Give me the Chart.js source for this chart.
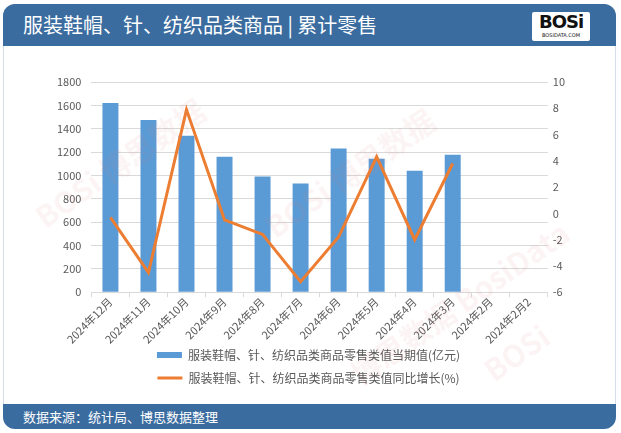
<!DOCTYPE html>
<html>
<head>
<meta charset="utf-8">
<script src="https://cdn.jsdelivr.net/npm/chart.js@4.4.1/dist/chart.umd.min.js"></script>
<style>
  html, body { margin: 0; padding: 0; background: #fff; }
  body { width: 621px; height: 433px; position: relative; overflow: hidden;
    font-family: "Noto Sans CJK SC", "Noto Sans", sans-serif; }
  #frame { position: absolute; left: 3px; top: 4px; width: 613px; height: 424px;
    border: 1px solid #d5dde8; border-radius: 12px; box-sizing: border-box; }
  #header { position: absolute; left: 3px; top: 4px; width: 613px; height: 42px;
    background: #3a6ca0; border-radius: 12px 12px 0 0; }
  #header .title { position: absolute; left: 20px; top: 6px; color: #fff; font-size: 20px; }
  #logo { position: absolute; right: 26px; top: 8px; width: 58px; height: 29px;
    background: #fff; border-radius: 2px; text-align: center; }
  #logo .big { font-family: "DejaVu Sans", sans-serif; font-weight: bold; font-size: 18px;
    line-height: 20px; color: #111; letter-spacing: -1px; }
  #logo .small { font-family: "DejaVu Sans", sans-serif; font-size: 5px; line-height: 6px; color: #111; }
  #footer { position: absolute; left: 3px; top: 404px; width: 613px; height: 25px;
    background: #3a6ca0; border-radius: 0 0 12px 12px; }
  #footer .src { position: absolute; left: 20px; top: 3px; color: #fff; font-size: 13px; }
  #box { position: absolute; left: 10px; top: 56px; width: 600px; height: 344px; }
  .wm { position: absolute; color: rgba(220, 110, 110, 0.08); font-size: 30px; font-weight: bold;
    transform: rotate(-35deg); white-space: nowrap; pointer-events: none; z-index: 5; }
</style>
</head>
<body>
<div id="frame"></div>
<div id="header">
  <div class="title">服装鞋帽、针、纺织品类商品 | 累计零售</div>
  <div id="logo"><div class="big">BOSi</div><div class="small">BOSIDATA.COM</div></div>
</div>
<div id="box"><canvas id="chart1"></canvas></div>
<div id="footer"><div class="src">数据来源：统计局、博思数据整理</div></div>
<div class="wm" style="left:20px; top:140px;">BOSi 博思数据</div>
<div class="wm" style="left:250px; top:150px;">BOSi 博思数据</div>
<div class="wm" style="left:330px; top:280px;">博思数据 BosiData</div>
<div class="wm" style="left:480px; top:330px;">BOSi</div>
<script>
// 服装鞋帽、针、纺织品类商品零售额
const months = [
  "2024年12月",
  "2024年11月",
  "2024年10月",
  "2024年9月",
  "2024年8月",
  "2024年7月",
  "2024年6月",
  "2024年5月",
  "2024年4月",
  "2024年3月",
  "2024年2月",
  "2024年2月2",
];

// 当期值(亿元)
const salesValue = [1620, 1475, 1340, 1160, 990, 930, 1230, 1143, 1041, 1177, null, null];

// 同比增长(%)
const growthRate = [-0.3, -4.5, 7.9, -0.5, -1.6, -5.2, -1.8, 4.3, -2.0, 3.8, null, null];

const tickFont = { family: "Noto Sans CJK SC", size: 11 };

const salesData = {
  labels: months,
  datasets: [
    {
      type: "line",
      label: "服装鞋帽、针、纺织品类商品零售类值同比增长(%)",
      data: growthRate,
      yAxisID: "y1",
      borderColor: "#ed7d31",
      backgroundColor: "#ed7d31",
      borderWidth: 3,
      pointRadius: 0,
      pointStyle: "line",
      tension: 0,
      order: 1,
    },
    {
      type: "bar",
      label: "服装鞋帽、针、纺织品类商品零售类值当期值(亿元)",
      data: salesValue,
      yAxisID: "y",
      backgroundColor: "#5b9bd5",
      borderWidth: 0,
      pointStyle: "rect",
      barPercentage: 0.42,
      categoryPercentage: 1,
      order: 2,
    },
  ],
};

// legend sits a bit closer to the rotated month labels
const legendLift = {
  id: "legendLift",
  afterLayout(chart) {
    chart.legend.top -= 6;
    chart.legend.bottom -= 6;
  },
};

const config1 = {
  data: salesData,
  options: {
    responsive: true,
    maintainAspectRatio: false,
    animation: false,
    layout: { padding: { left: 37, right: 40, top: 26, bottom: 0 } },
    plugins: {
      legend: {
        position: "bottom",
        reverse: true,
        labels: {
          usePointStyle: true,
          pointStyleWidth: 25,
          boxHeight: 6,
          color: "#595959",
          padding: 11,
          font: { family: "Noto Sans CJK SC", size: 12 },
        },
      },
      tooltip: { enabled: false },
    },
    scales: {
      x: {
        grid: { display: true, drawOnChartArea: false, drawTicks: true, tickLength: 5, offset: true, color: "#d9d9d9" },
        border: { color: "#d9d9d9" },
        ticks: { color: "#595959", font: tickFont, maxRotation: 45, minRotation: 45, padding: -2 },
      },
      y: {
        position: "left",
        min: 0,
        max: 1800,
        ticks: { stepSize: 200, color: "#595959", font: tickFont, padding: 10, callback: (v) => v },
        grid: { color: "#d9d9d9", drawTicks: false },
        border: { display: false },
      },
      y1: {
        position: "right",
        min: -6,
        max: 10,
        ticks: { stepSize: 2, color: "#595959", font: tickFont, padding: 5, callback: (v) => v },
        grid: { display: false, drawTicks: false },
        border: { display: false },
      },
    },
  },
  plugins: [legendLift],
};

const comboChart = new Chart(document.getElementById("chart1"), config1);
</script>
</body>
</html>
